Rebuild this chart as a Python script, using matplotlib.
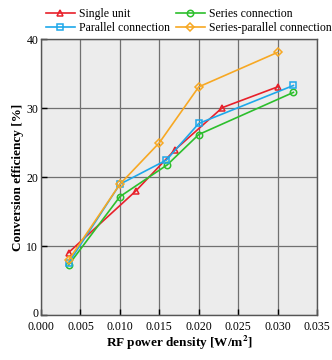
import matplotlib.pyplot as plt
import matplotlib.transforms as mtransforms

plt.rcParams['font.family'] = ['Liberation Serif', 'DejaVu Serif']
plt.rcParams['mathtext.fontset'] = 'stix'

# data
x_single = [0.0035, 0.0120, 0.0170, 0.0230, 0.0300]
y_single = [9.1, 18.0, 24.0, 30.1, 33.1]

x_parallel = [0.0035, 0.0100, 0.0159, 0.0200, 0.0320]
y_parallel = [7.6, 19.0, 22.5, 27.8, 33.3]

x_series = [0.0035, 0.0100, 0.0160, 0.0200, 0.0320]
y_series = [7.3, 17.2, 21.8, 26.2, 32.3]

x_sp = [0.0035, 0.0100, 0.0150, 0.0200, 0.0300]
y_sp = [8.0, 19.0, 25.0, 33.1, 38.1]

fig = plt.figure(figsize=(3.32, 3.6), dpi=100)
ax = fig.add_axes([0.1235, 0.124, 0.8315, 0.767])
ax.set_facecolor('#ececec')

ms = 4.6
l1, = ax.plot(x_single, y_single, '-^', color='#e8202a', mfc='none', ms=ms, lw=1.2, mew=1.1, label='Single unit')
l3, = ax.plot(x_series, y_series, '-o', color='#2cbf2c', mfc='none', ms=ms, lw=1.2, mew=1.1, label='Series connection')
l2, = ax.plot(x_parallel, y_parallel, '-s', color='#1ea8ea', mfc='none', ms=ms, lw=1.2, mew=1.1, label='Parallel connection')
l4, = ax.plot(x_sp, y_sp, '-D', color='#f7a823', mfc='none', ms=ms - 0.4, lw=1.2, mew=1.1, label='Series-parallel connection')

ax.set_xlim(0, 0.035)
ax.set_ylim(0, 40)
ax.set_xticks([0.000, 0.005, 0.010, 0.015, 0.020, 0.025, 0.030, 0.035])
ax.set_xticklabels(['%.3f' % v for v in ax.get_xticks()])
ax.set_yticks([0, 10, 20, 30, 40])
ax.grid(True, color='#707070', lw=0.9)
ax.set_axisbelow(True)
ax.tick_params(direction='in', length=4, width=1, labelsize=8.5, pad=2)
ax.tick_params(axis='x', pad=4)
for s in ax.spines.values():
    s.set_color('#555555')
    s.set_linewidth(1.0)

# lift the "0" on the y axis a little so it clears "0.000"
ylab0 = ax.get_yticklabels()[0]
ylab0.set_transform(ylab0.get_transform() + mtransforms.ScaledTranslation(0, 2 / 72, fig.dpi_scale_trans))

ax.set_xlabel(r'RF power density [W/m$^\mathbf{2}$]', fontsize=9.5, fontweight='bold', labelpad=1)
ax.set_ylabel('Conversion efficiency [%]', fontsize=9.5, fontweight='bold', labelpad=2)

ax.legend([l1, l2, l3, l4], [l.get_label() for l in (l1, l2, l3, l4)],
          loc='lower left', bbox_to_anchor=(0.015, 1.015), ncol=2, frameon=False,
          fontsize=8.5, handlelength=2.4, columnspacing=0.5, handletextpad=0.4,
          labelspacing=0.15, borderaxespad=0, borderpad=0.1)

fig.savefig('out.png', dpi=100)
